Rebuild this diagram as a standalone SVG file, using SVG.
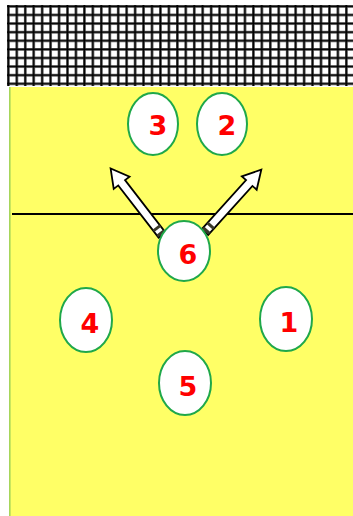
<svg xmlns="http://www.w3.org/2000/svg" width="353" height="516" viewBox="0 0 353 516">
<style>
.pl ellipse{fill:#fff;stroke:#1fa84a;stroke-width:2}
.pl text{font-family:"DejaVu Sans","Liberation Sans",sans-serif;font-size:27px;font-weight:bold;fill:#ff0000;text-anchor:middle}
</style>
<defs>
<pattern id="net" patternUnits="userSpaceOnUse" x="7" y="5" width="8.45" height="8.6">
<rect width="8.45" height="8.6" fill="#fff"/>
<path d="M0 1.3H8.45M1.3 0V8.6" stroke="#888" stroke-width="3"/>
<path d="M0 1.3H8.45M1.3 0V8.6" stroke="#000" stroke-width="1.8"/>
</pattern>
<g id="arrowShape">
<polygon points="0,-4.3 66,-4.3 66,-10 84,0 66,10 66,4.3 0,4.3" fill="#fff" stroke="#000" stroke-width="1.8" stroke-linejoin="miter"/>
<rect x="0.5" y="-4.3" width="3" height="8.6" fill="#3a3a2a"/>
<rect x="7" y="-4.3" width="3" height="8.6" fill="#3a3a2a"/>
</g>
</defs>
<rect width="353" height="516" fill="#fff"/>
<g id="net-area">
<rect x="7" y="5" width="346" height="81" fill="url(#net)"/>
</g>
<g id="court">
<rect x="9" y="87" width="344" height="429" fill="#ffff66"/>
<line x1="9.8" y1="87" x2="9.8" y2="516" stroke="#a6d65a" stroke-width="1.6"/>
<line x1="12" y1="214" x2="353" y2="214" stroke="#000" stroke-width="2"/>
</g>
<g id="connectors">
<use href="#arrowShape" transform="translate(162,235) rotate(-127.7)"/>
<use href="#arrowShape" transform="translate(205,232) rotate(-47.9)"/>
</g>
<g id="p3" class="pl"><ellipse cx="153" cy="124" rx="25" ry="31"/><text x="158" y="135">3</text></g>
<g id="p2" class="pl"><ellipse cx="222" cy="124" rx="25" ry="31"/><text x="227" y="135">2</text></g>
<g id="p6" class="pl"><ellipse cx="184" cy="251" rx="26" ry="30"/><text x="188" y="264">6</text></g>
<g id="p4" class="pl"><ellipse cx="86" cy="320" rx="26" ry="32"/><text x="90" y="333">4</text></g>
<g id="p1" class="pl"><ellipse cx="286" cy="319" rx="26" ry="32"/><text x="289" y="332">1</text></g>
<g id="p5" class="pl"><ellipse cx="185" cy="383" rx="26" ry="32"/><text x="188" y="396">5</text></g>
</svg>
